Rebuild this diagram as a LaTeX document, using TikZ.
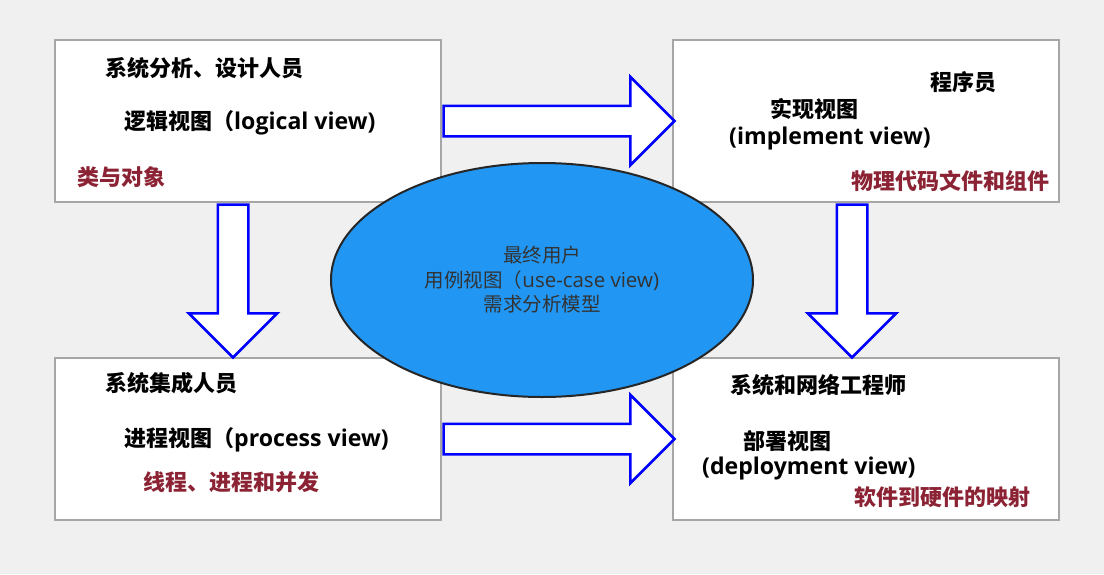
\documentclass[tikz,border=0pt]{standalone}
\usepackage{fontspec}
\setmainfont{Noto Sans CJK SC}
\newfontfamily\latf[Scale=1.05]{Open Sans}
\usepackage{tikz}
\usetikzlibrary{shapes,arrows,positioning,calc}
\definecolor{bggray}{RGB}{240,240,240}
\definecolor{boxgray}{RGB}{166,166,166}
\definecolor{notered}{RGB}{139,35,52}
\definecolor{caseblue}{RGB}{33,150,243}
\definecolor{casetext}{RGB}{51,51,51}
\tikzset{
viewbox/.style = {draw=boxgray, fill=white, rectangle, line width=2.5pt, minimum width=386pt, minimum height=162pt, inner sep=0pt},
bigarrow/.style = {single arrow, draw=blue, fill=white, line width=2.5pt, minimum width=0pt, inner sep=0pt, inner ysep=14pt, single arrow head extend=29pt, single arrow tip angle=90, anchor=tail},
usecase/.style = {ellipse, draw=black!85, fill=caseblue, line width=2pt, minimum width=422pt, minimum height=234pt, align=center, text=casetext, font=\fontsize{19.5}{24.5}\selectfont},
role/.style = {anchor=west, inner sep=0pt, font=\fontsize{22}{26}\selectfont\bfseries},
viewname/.style = {role},
note/.style = {role, text=notered}
}

\begin{document}
\begin{tikzpicture}[x=1pt, y=-1pt]
    \fill[bggray] (0,0) rectangle (1104,574);
    \useasboundingbox (0,0) rectangle (1104,574);
    \node [viewbox] (logical) at (248,121) {};
    \node [viewbox] (impl) at (866,121) {};
    \node [viewbox] (process) at (248,439) {};
    \node [viewbox] (deploy) at (866,439) {};

    \node [bigarrow, minimum height=231pt] (logical2impl) at (logical.east) {};
    \node [bigarrow, minimum height=231pt] (process2deploy) at (process.east) {};
    \node [bigarrow, minimum height=153pt, rotate=-90] (logical2process) at ($(logical.south)+(-15,0)$) {};
    \node [bigarrow, minimum height=153pt, rotate=-90] (impl2deploy) at ($(impl.south)+(-14,0)$) {};

    \node [usecase] (usecase) at (542,280) {最终用户\\用例视图（{\latf use-case view)}\\需求分析模型};

    \node [role] (logicalrole) at (105,68) {系统分析、设计人员};
    \node [viewname] (logicalname) at (124,123) {逻辑视图（{\latf logical view)}};
    \node [note] (logicalnote) at (77,177) {类与对象};

    \node [role] (implrole) at (930,82) {程序员};
    \node [viewname] (implname) at (770,109) {实现视图};
    \node [viewname] (implnamelat) at (729,138) {{\latf (implement view)}};
    \node [note] (implnote) at (851,181) {物理代码文件和组件};

    \node [role] (processrole) at (105,383) {系统集成人员};
    \node [viewname] (processname) at (124,440) {进程视图（{\latf process view)}};
    \node [note] (processnote) at (143,482) {线程、进程和并发};

    \node [role] (deployrole) at (730,385) {系统和网络工程师};
    \node [viewname] (deployname) at (743,441) {部署视图};
    \node [viewname] (deploynamelat) at (702,468) {{\latf (deployment view)}};
    \node [note] (deploynote) at (854,497) {软件到硬件的映射};
\end{tikzpicture}
\end{document}
